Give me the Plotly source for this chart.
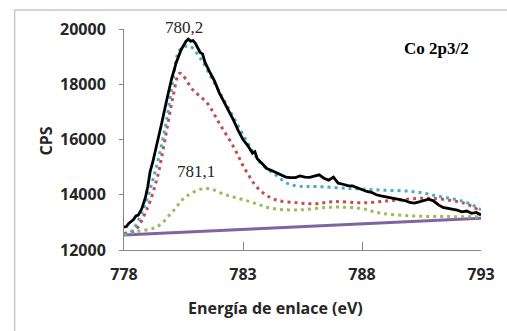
import plotly.graph_objects as go

# Experimental spectrum (black)
exp_x = [778.0, 778.1, 778.2, 778.4, 778.5, 778.6, 778.75, 778.9, 779.0, 779.1, 779.2, 779.4,
         779.6, 779.8, 780.0, 780.2, 780.4, 780.6, 780.7, 780.8, 780.9, 781.0, 781.2, 781.3,
         781.4, 781.6, 781.8, 782.0, 782.2, 782.4, 782.6, 782.8, 783.0, 783.2, 783.4, 783.5,
         783.6, 783.8, 784.0, 784.2, 784.4, 784.6, 784.8, 785.0, 785.2, 785.4, 785.6, 785.8,
         786.0, 786.2, 786.4, 786.6, 786.8, 787.0, 787.2, 787.4, 787.6, 787.8, 788.0, 788.2,
         788.4, 788.6, 788.8, 789.0, 789.2, 789.4, 789.6, 789.8, 790.0, 790.2, 790.4, 790.6,
         790.8, 791.0, 791.2, 791.4, 791.6, 791.8, 792.0, 792.2, 792.4, 792.6, 792.8, 793.0]
exp_y = [12830, 12850, 12960, 13100, 13230, 13260, 13500, 13900, 14300, 14850, 15150, 15850,
         16650, 17450, 18200, 18800, 19250, 19550, 19630, 19560, 19580, 19480, 19150, 19100,
         18800, 18450, 18120, 17700, 17380, 17050, 16700, 16320, 16000, 15780, 15500, 15560,
         15300, 15130, 14950, 14880, 14800, 14700, 14640, 14620, 14620, 14680, 14640, 14630,
         14680, 14720, 14600, 14530, 14640, 14420, 14380, 14330, 14320, 14250, 14200, 14120,
         14090, 14000, 13960, 13930, 13880, 13870, 13820, 13790, 13720, 13700, 13740, 13800,
         13840, 13780, 13640, 13540, 13510, 13460, 13440, 13380, 13410, 13330, 13360, 13270]

# Fit envelope (blue)
fit_x = [778.0, 778.3, 778.8, 779.2, 779.5, 779.8, 780.06, 780.34, 780.75, 781.2, 781.73,
         782.43, 783.13, 783.75, 784.38, 784.94, 785.5, 786.05, 787.4, 788.8, 790.2, 791.3,
         792.3, 792.9, 793.0]
fit_y = [12560, 12660, 13450, 14500, 15500, 16750, 18150, 19240, 19380, 18950, 18150,
         17070, 15980, 15140, 14710, 14380, 14300, 14300, 14230, 14170, 14110, 13930,
         13750, 13510, 13450]

# Component 780,2 (red)
c1_x = [778.0, 778.46, 778.95, 779.37, 779.64, 779.85, 780.06, 780.35, 780.9, 781.5, 782.0,
        782.6, 783.1, 783.7, 784.4, 785.3, 786.0, 786.8, 788.1, 789.5, 790.9, 792.3, 792.9,
        793.0]
c1_y = [12600, 12720, 13450, 14530, 15620, 16600, 17550, 18400, 17790, 17310, 16590,
        15740, 14900, 14170, 13810, 13710, 13670, 13750, 13710, 13810, 13870, 13690, 13450,
        13400]

# Component 781,1 (green)
c2_x = [778.0, 778.5, 779.4, 780.1, 780.6, 781.45, 782.3, 783.3, 784.2, 785.3, 786.7, 787.9,
        788.8, 790.2, 791.6, 793.0]
c2_y = [12560, 12660, 12850, 13450, 13930, 14230, 13990, 13750, 13510, 13450, 13550, 13510,
        13330, 13230, 13210, 13200]

# Background (purple)
bg_x = [778.0, 793.0]
bg_y = [12540, 13150]

x_ticks = [778, 783, 788, 793]
y_ticks = [12000, 14000, 16000, 18000, 20000]

fig = go.Figure()
fig.add_trace(go.Scatter(x=bg_x, y=bg_y, mode="lines",
                         line=dict(color="#8064a2", width=3)))
fig.add_trace(go.Scatter(x=c2_x, y=c2_y, mode="lines", line_shape="spline",
                         line=dict(color="#9bbb59", width=3, dash="3px,4px")))
fig.add_trace(go.Scatter(x=c1_x, y=c1_y, mode="lines", line_shape="spline",
                         line=dict(color="#c0504d", width=3, dash="3px,4px")))
fig.add_trace(go.Scatter(x=fit_x, y=fit_y, mode="lines", line_shape="spline",
                         line=dict(color="#4bacc6", width=3, dash="3px,4px")))
fig.add_trace(go.Scatter(x=exp_x, y=exp_y, mode="lines",
                         line=dict(color="#000000", width=2.8)))

tick_font = dict(family="Open Sans", size=16, color="#262626", weight="bold")


def px_x(p):
    return (p - 124) / 359


def px_y(p):
    return (250 - p) / 221


fig.update_layout(
    width=507, height=331,
    margin=dict(l=124, r=24, t=29, b=81),
    paper_bgcolor="white", plot_bgcolor="white",
    showlegend=False,
    xaxis=dict(range=[778, 793], tickvals=x_ticks, ticktext=[str(v) for v in x_ticks],
               showgrid=False, zeroline=False, showline=True, linecolor="#868686",
               linewidth=1, ticks="inside", ticklen=8, tickcolor="#868686",
               tickfont=tick_font, ticklabelstandoff=10),
    yaxis=dict(range=[12000, 20000], tickvals=y_ticks, ticktext=[str(v) for v in y_ticks],
               showgrid=False, zeroline=False, showline=True, linecolor="#868686",
               linewidth=1, ticks="outside", ticklen=4, tickcolor="#868686",
               tickfont=tick_font, ticklabelstandoff=10),
    shapes=[dict(type="rect", xref="paper", yref="paper",
                 x0=px_x(14), x1=1.2, y0=-0.5, y1=px_y(10),
                 line=dict(color="#c8c8c8", width=1.5), fillcolor="rgba(0,0,0,0)",
                 layer="below")],
    annotations=[
        dict(text="Energía de enlace (eV)", xref="paper", yref="paper",
             x=px_x(276), y=px_y(308), xanchor="center", yanchor="middle", showarrow=False,
             font=dict(family="Open Sans", size=16, color="#262626", weight="bold")),
        dict(text="CPS", xref="paper", yref="paper", textangle=-90,
             x=px_x(46), y=px_y(141), xanchor="center", yanchor="middle", showarrow=False,
             font=dict(family="Open Sans", size=16, color="#262626", weight="bold")),
        dict(text="780,2", xref="paper", yref="paper",
             x=px_x(184), y=px_y(27), xanchor="center", yanchor="middle", showarrow=False,
             font=dict(family="Liberation Serif", size=17, color="#262626")),
        dict(text="781,1", xref="paper", yref="paper",
             x=px_x(196), y=px_y(172), xanchor="center", yanchor="middle", showarrow=False,
             font=dict(family="Liberation Serif", size=17, color="#262626")),
        dict(text="<b>Co 2p3/2</b>", xref="paper", yref="paper",
             x=px_x(438), y=px_y(48), xanchor="center", yanchor="middle", showarrow=False,
             font=dict(family="Liberation Serif", size=17, color="#000000")),
    ],
)

fig.write_html("out.html")
